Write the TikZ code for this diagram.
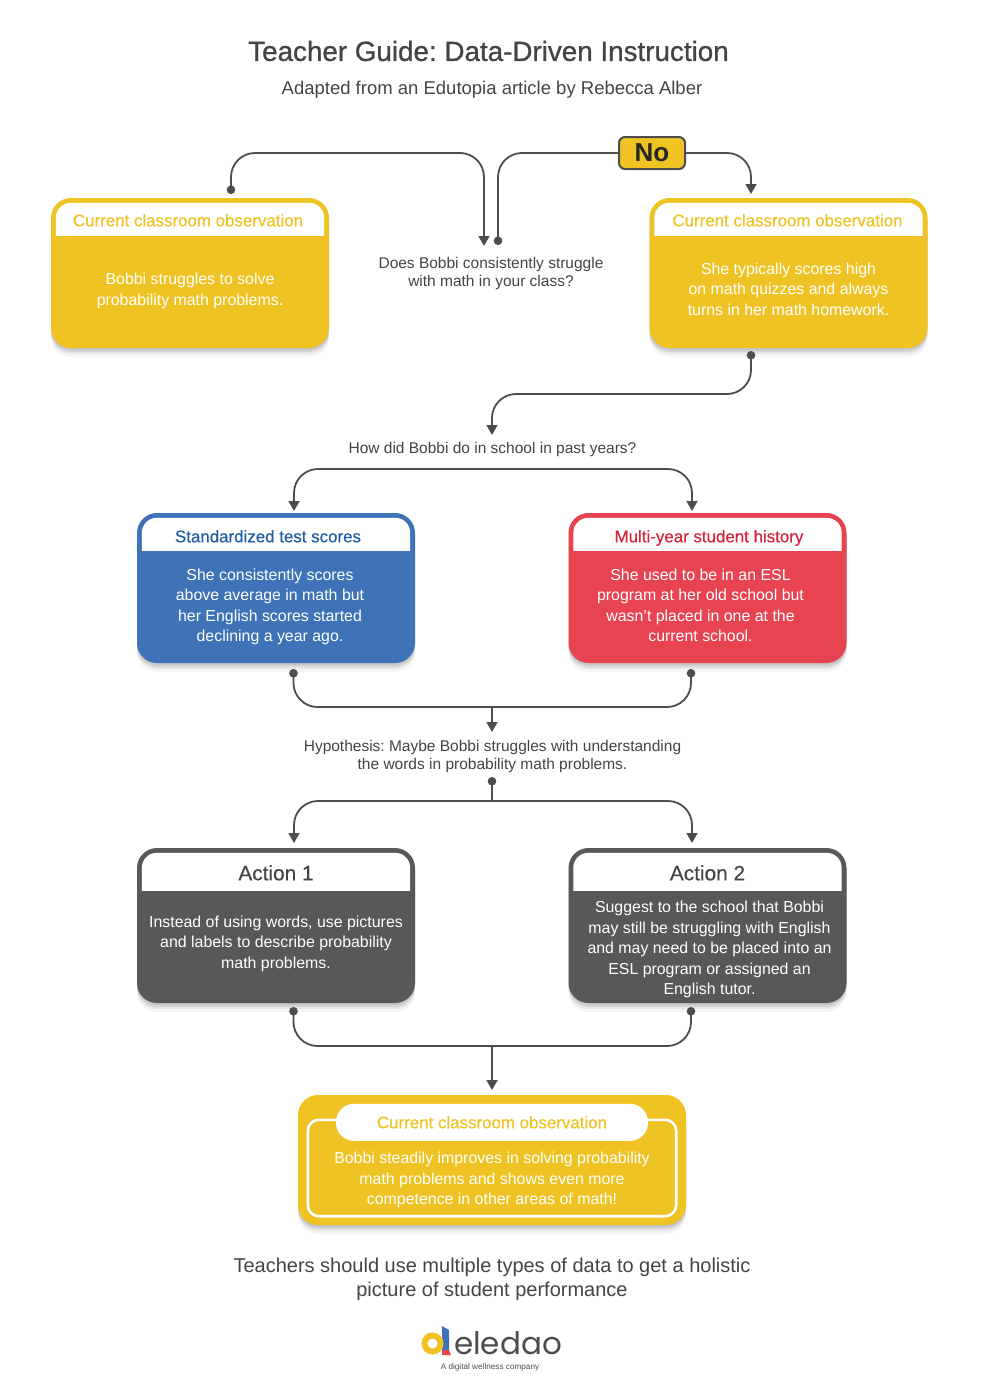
\documentclass[tikz,border=0pt]{standalone}
\usepackage{fontspec}
\setmainfont{Liberation Sans}
\newfontfamily\medfont[FakeBold=0.9]{Liberation Sans}
\newfontfamily\headfont[FakeBold=0.3]{Liberation Sans}
\newfontfamily\logofont{Poppins}
\usetikzlibrary{positioning}
\usetikzlibrary{calc}
\usetikzlibrary{shadows}
\usetikzlibrary{arrows.meta}
\frenchspacing

\definecolor{cardyellow}{HTML}{F0C324}
\definecolor{cardblue}{HTML}{3E73B8}
\definecolor{headblue}{HTML}{1F5CA8}
\definecolor{cardred}{HTML}{E84351}
\definecolor{headred}{HTML}{D8213A}
\definecolor{cardgray}{HTML}{58585A}
\definecolor{linegray}{HTML}{4D4D4D}
\definecolor{textgray}{HTML}{444444}

\tikzset{
  softshadow/.style={
    drop shadow={shadow xshift=0pt,shadow yshift=-2pt,opacity=.08,fill=black},
    drop shadow={shadow xshift=0pt,shadow yshift=-4pt,opacity=.07,fill=black},
    drop shadow={shadow xshift=0pt,shadow yshift=-6pt,opacity=.06,fill=black},
    drop shadow={shadow xshift=0pt,shadow yshift=-9pt,opacity=.04,fill=black}},
  card/.style={rectangle, rounded corners=20pt, minimum width=278pt, minimum height=150pt, inner sep=0pt, softshadow, fill=#1},
  bodytext/.style={text=white, align=center, font=\fontsize{15.9}{20.5}\selectfont, inner sep=0pt},
  headtext/.style={text=#1, font=\fontsize{16.9}{20}\headfont\selectfont, inner sep=0pt, text height=12pt, text depth=3.5pt},
  actionhead/.style={text=textgray, font=\fontsize{20.8}{24}\headfont\selectfont, inner sep=0pt, text height=15pt, text depth=0pt},
  plaintext/.style={text=textgray, align=center, font=\fontsize{15.5}{18}\selectfont, inner sep=0pt},
  flow/.style={draw=linegray, line width=1.8pt, rounded corners=24pt},
  >={Triangle[length=10pt,width=11pt]},
  dot/.tip={Circle[length=8.5pt]},
}

\newcommand{\headband}[2]{
  \fill[white] ($(#1.north west)+(5,#2)$) [rounded corners=15pt] -- ($(#1.north west)+(5,5)$)
     -- ($(#1.north east)+(-5,5)$) [sharp corners] -- ($(#1.north east)+(-5,#2)$) -- cycle;
}

\begin{document}
\begin{tikzpicture}[x=1pt,y=-1pt,on grid]
      % \draw[help lines] (0,0) grid (980,1392);
      \useasboundingbox (0,0) rectangle (980,1392);

      \node[text=textgray, font=\fontsize{27.8}{32}\medfont\selectfont, inner sep=0pt] (title) at (488.5,51) {Teacher Guide: Data-Driven Instruction};
      \node[plaintext, font=\fontsize{18.5}{22}\selectfont, below=39pt of title, xshift=3.5pt] (subtitle) {Adapted from an Edutopia article by Rebecca Alber};

      \node[plaintext]                                    (q_1) at (491,273) {Does Bobbi consistently struggle\\with math in your class?};
      \node[card=cardyellow, left=301pt of q_1]           (c_1) {};
      \node[card=cardyellow, right=297.5pt of q_1]        (c_2) {};
      \node[plaintext, below=176pt of q_1, xshift=1.5pt]  (q_2) {How did Bobbi do in school in past years?};

      \node[card=cardblue, below=315pt of c_1, xshift=86pt]   (std) {};
      \node[card=cardred, below=315pt of c_2, xshift=-81pt]   (hist) {};
      \node[plaintext, below=483pt of q_1, xshift=1.5pt]  (hyp) {Hypothesis: Maybe Bobbi struggles with understanding\\the words in probability math problems.};

      \node[card=cardgray, minimum height=155pt, below=337.5pt of std]  (act_1) {};
      \node[card=cardgray, minimum height=155pt, below=337.5pt of hist] (act_2) {};
      \node[card=cardyellow, minimum width=388pt, minimum height=130pt] (final) at (492,1160) {};

      \headband{c_1}{38}
      \headband{c_2}{38}
      \headband{std}{38}
      \headband{hist}{38}
      \headband{act_1}{43}
      \headband{act_2}{43}
      \draw[white, line width=2.6pt, rounded corners=11pt] ($(final.north west)+(10,25)$) rectangle ($(final.south east)+(-10,-9)$);

      \node[headtext=cardyellow]  (c_1_head) at ($(c_1.north)+(-2,24.25)$) {Current classroom observation};
      \node[headtext=cardyellow]  (c_2_head) at ($(c_2.north)+(-1,24.25)$) {Current classroom observation};
      \node[headtext=headblue]    (std_head) at ($(std.north)+(-8,25.25)$) {Standardized test scores};
      \node[headtext=headred]     (hist_head) at ($(hist.north)+(1.5,25.25)$) {Multi-year student history};
      \node[actionhead] (act_1_head) at ($(act_1.north)+(0,25)$) {Action 1};
      \node[actionhead] (act_2_head) at ($(act_2.north)+(0,25)$) {Action 2};
      \node[headtext=cardyellow, text depth=0pt, fill=white, rounded corners=18pt, minimum width=312pt, minimum height=37pt] (final_head) at ($(final.north)+(0,27.5)$) {Current classroom observation};

      \node[bodytext] (c_1_body) at ($(c_1.north)+(0,93)$) {Bobbi struggles to solve\\probability math problems.};
      \node[bodytext] (c_2_body) at ($(c_2.north)+(0,91.5)$) {She typically scores high\\on math quizzes and always\\turns in her math homework.};
      \node[bodytext] (std_body) at ($(std.north)+(-6,94)$) {She consistently scores\\above average in math but\\her English scores started\\declining a year ago.};
      \node[bodytext] (hist_body) at ($(hist.north)+(-7,92.5)$) {She used to be in an ESL\\program at her old school but\\wasn't placed in one at the\\current school.};
      \node[bodytext] (act_1_body) at ($(act_1.north)+(0,96)$) {Instead of using words, use pictures\\and labels to describe probability\\math problems.};
      \node[bodytext] (act_2_body) at ($(act_2.north)+(2,102)$) {Suggest to the school that Bobbi\\may still be struggling with English\\and may need to be placed into an\\ESL program or assigned an\\English tutor.};
      \node[bodytext] (final_body) at ($(final.north)+(0,85.5)$) {Bobbi steadily improves in solving probability\\math problems and shows even more\\competence in other areas of math!};

      \node[plaintext, font=\fontsize{20}{24}\selectfont] (closing) at (492,1279) {Teachers should use multiple types of data to get a holistic\\picture of student performance};

      \node[draw=linegray, fill=cardyellow, line width=2pt, rounded corners=6pt, minimum width=66pt, minimum height=32pt, inner sep=0pt,
            text=black!85, font=\fontsize{26}{30}\bfseries\selectfont] (no) at (652,153) {No};

      \coordinate (a_in)   at (484,246);
      \coordinate (a_out)  at (231,194);
      \coordinate (a_top)  at (360,153);
      \coordinate (b_out)  at (498,245);
      \coordinate (b_in)   at (751,194);
      \coordinate (c_out)  at (751,351);
      \coordinate (c_mid)  at (620,394);
      \coordinate (c_in)   at (492,435);
      \coordinate (d_out)  at (492,469);
      \coordinate (d_l)    at (294,511);
      \coordinate (d_r)    at (692,511);
      \coordinate (e_l)    at (293.5,669);
      \coordinate (e_r)    at (691,669);
      \coordinate (e_mid)  at (492,707);
      \coordinate (e_in)   at (492,732);
      \coordinate (f_out)  at (492,777);
      \coordinate (f_mid)  at (492,801);
      \coordinate (f_l)    at (294,843);
      \coordinate (f_r)    at (692,843);
      \coordinate (g_l)    at (293.5,1007);
      \coordinate (g_r)    at (691,1007);
      \coordinate (g_mid)  at (492,1046);
      \coordinate (g_in)   at (492,1090);

      \draw[flow, dot->] (a_out) |- (a_top) -| (a_in);
      \draw[flow, dot-]  (b_out) |- (no.west);
      \draw[flow, ->]    (no.east) -| (b_in);
      \draw[flow, dot-]  (c_out) |- (c_mid);
      \draw[flow, ->]    (c_mid) -| (c_in);
      \draw[flow, ->]    (d_out) -| (d_l);
      \draw[flow, ->]    (d_out) -| (d_r);
      \draw[flow, dot-]  (e_l) |- (e_mid);
      \draw[flow, dot-]  (e_r) |- (e_mid);
      \draw[flow, ->]    (e_mid) -- (e_in);
      \draw[flow, dot-]  (f_out) -- (f_mid);
      \draw[flow, ->]    (f_mid) -| (f_l);
      \draw[flow, ->]    (f_mid) -| (f_r);
      \draw[flow, dot-]  (g_l) |- (g_mid);
      \draw[flow, dot-]  (g_r) |- (g_mid);
      \draw[flow, ->]    (g_mid) -- (g_in);

      \fill[cardblue] (442,1326) -- (449,1330) -- (449,1351) -- (442,1351) -- cycle;
      \fill[cardred]  (442,1350) -- (449,1350) -- (451,1355) -- (442,1355) -- cycle;
      \draw[cardyellow, line width=6pt] (432.5,1343.5) circle (8);
      \node[text=linegray, inner sep=0pt, font=\fontsize{31}{34}\logofont\selectfont] (logo) at (508,1343) {eledao};
      \node[text=linegray, inner sep=0pt, font=\fontsize{8.2}{10}\selectfont, below=24pt of logo, xshift=-18pt] (tagline) {A digital wellness company};
\end{tikzpicture}
\end{document}
